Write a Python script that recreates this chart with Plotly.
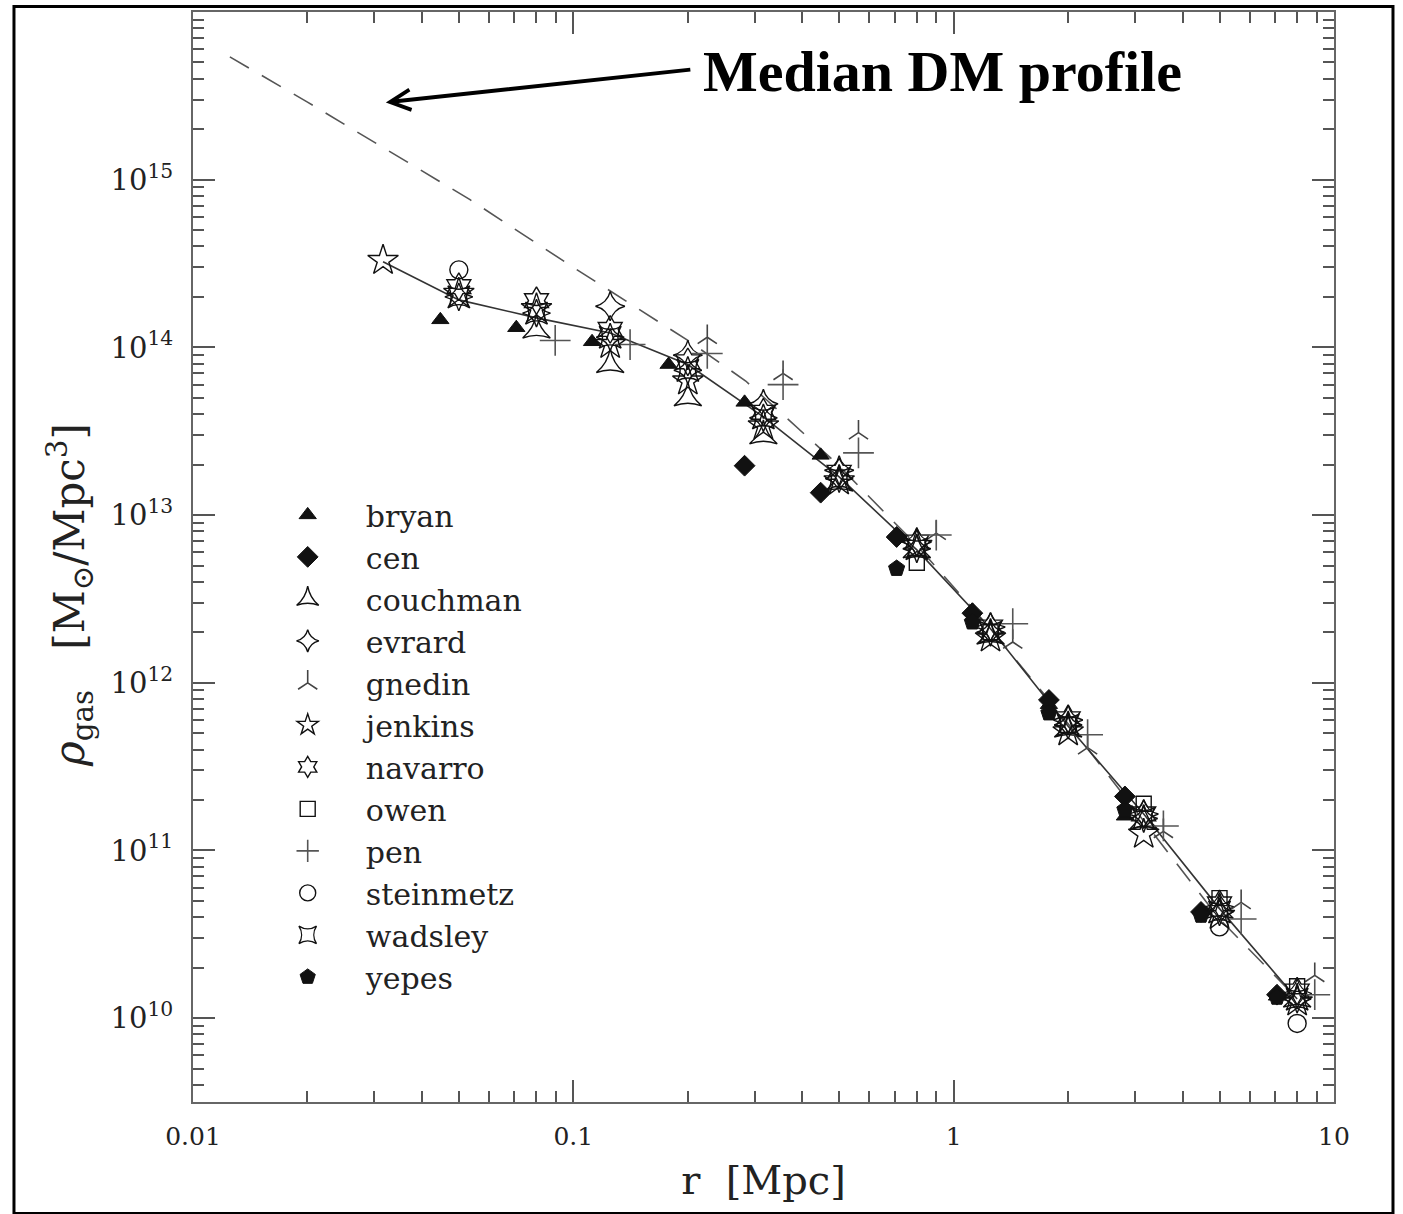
import numpy as np
import plotly.graph_objects as go

# ---------------- data ----------------
bryan_r = [0.0447, 0.0708, 0.112, 0.178, 0.282, 0.447, 0.708, 1.12, 1.78, 2.82, 4.47, 7.08]
bryan_rho = [1.46e14, 1.31e14, 1.08e14, 7.9e13, 4.7e13, 2.27e13, 7.6e12, 2.7e12, 7.4e11, 1.6e11, 4.4e10, 1.35e10]

cen_r = [0.282, 0.447, 0.708, 1.12, 1.78, 2.82, 4.47, 7.08]
cen_rho = [1.97e13, 1.36e13, 7.4e12, 2.6e12, 7.9e11, 2.1e11, 4.3e10, 1.38e10]

couchman_r = [0.08, 0.125, 0.2, 0.316, 0.5, 0.8, 1.25, 2.0, 3.16, 5.0, 8.0]
couchman_rho = [1.27e14, 7.9e13, 5.0e13, 2.97e13, 1.55e13, 6.2e12, 1.9e12, 5.3e11, 1.5e11, 4.4e10, 1.3e10]

evrard_r = [0.125, 0.2, 0.316, 0.5, 0.8, 1.25, 2.0, 3.16, 5.0, 8.0]
evrard_rho = [1.76e14, 9.0e13, 4.6e13, 1.85e13, 6.9e12, 2.15e12, 6.0e11, 1.65e11, 4.6e10, 1.4e10]

gnedin_r = [0.225, 0.356, 0.562, 0.9, 1.43, 2.25, 3.56, 5.7, 8.9]
gnedin_rho = [1.15e14, 7.0e13, 3.1e13, 7.8e12, 1.75e12, 4.1e11, 1.3e11, 4.9e10, 1.8e10]

jenkins_r = [0.0316, 0.05, 0.08, 0.125, 0.2, 0.316, 0.5, 0.8, 1.25, 2.0, 3.16, 5.0, 8.0]
jenkins_rho = [3.3e14, 2.1e14, 1.7e14, 1.04e14, 6.3e13, 3.4e13, 1.6e13, 6.6e12, 1.85e12, 5.1e11, 1.25e11, 4.1e10, 1.25e10]

navarro_r = [0.05, 0.08, 0.125, 0.2, 0.316, 0.5, 0.8, 1.25, 2.0, 3.16, 5.0, 8.0]
navarro_rho = [2.3e14, 1.9e14, 1.28e14, 8.2e13, 4.1e13, 1.8e13, 6.9e12, 2.15e12, 6.1e11, 1.65e11, 4.8e10, 1.45e10]

owen_r = [0.8, 1.25, 2.0, 3.16, 5.0, 8.0]
owen_rho = [5.2e12, 2.0e12, 5.6e11, 1.9e11, 5.2e10, 1.55e10]

pen_r = [0.0896, 0.141, 0.225, 0.356, 0.562, 0.9, 1.43, 2.25, 3.56, 5.7, 8.9]
pen_rho = [1.1e14, 1.04e14, 9.2e13, 6.0e13, 2.35e13, 7.6e12, 2.25e12, 4.9e11, 1.4e11, 3.9e10, 1.38e10]

steinmetz_r = [0.05, 5.0, 8.0]
steinmetz_rho = [2.9e14, 3.5e10, 9.3e9]

wadsley_r = [0.05, 0.08, 0.125, 0.2, 0.316, 0.5, 0.8, 1.25, 2.0, 3.16, 5.0, 8.0]
wadsley_rho = [2.0e14, 1.6e14, 1.15e14, 7.3e13, 3.8e13, 1.65e13, 6.3e12, 2.0e12, 5.6e11, 1.55e11, 4.3e10, 1.3e10]

yepes_r = [0.708, 1.12, 1.78, 2.82, 4.47, 7.08]
yepes_rho = [4.8e12, 2.3e12, 6.6e11, 1.75e11, 4.1e10, 1.33e10]

median_r = [0.0316, 0.05, 0.08, 0.125, 0.2, 0.316, 0.5, 0.8, 1.25, 2.0, 3.16, 5.0, 8.0]
median_rho = [3.24e14, 1.92e14, 1.5e14, 1.22e14, 7.9e13, 3.85e13, 1.69e13, 6.2e12, 2.1e12, 5.5e11, 1.65e11, 4.5e10, 1.3e10]

dm_r = [0.0125, 0.02, 0.0535, 0.1, 0.2, 0.284, 0.485, 0.8, 1.25, 2.0, 3.16, 5.0, 7.9]
dm_rho = [5.4e15, 2.9e15, 7.6e14, 3.0e14, 1.1e14, 6.3e13, 2.1e13, 6.6e12, 2.1e12, 5.7e11, 1.5e11, 3.9e10, 1.35e10]

x_tickvals = [0.01, 0.1, 1, 10]
x_ticktext = ["0.01", "0.1", "1", "10"]
y_exponents = [10, 11, 12, 13, 14, 15]

# ---------------- figure ----------------
SERIF = "DejaVu Serif"
INK = "#111111"
GREY = "#555555"
PAD = "\u00a0" * 4
NB = "\u00a0"

fig = go.Figure()

fig.add_trace(go.Scatter(x=dm_r, y=dm_rho, mode="lines", showlegend=False,
                         line=dict(color="#555555", width=1.6, dash="22px,15px"),
                         hoverinfo="skip"))
fig.add_trace(go.Scatter(x=median_r, y=median_rho, mode="lines", showlegend=False,
                         line=dict(color="#333333", width=1.6), hoverinfo="skip"))

series = [
    ("bryan", bryan_r, bryan_rho, "triangle-up", 15, INK, 1),
    ("cen", cen_r, cen_rho, "diamond", 16, INK, 1),
    ("couchman", couchman_r, couchman_rho, "star-triangle-up-open", 20, INK, 1.4),
    ("evrard", evrard_r, evrard_rho, "star-diamond-open", 21, INK, 1.4),
    ("gnedin", gnedin_r, gnedin_rho, "y-up", 16, "#444444", 1.6),
    ("jenkins", jenkins_r, jenkins_rho, "star-open", 23, INK, 1.4),
    ("navarro", navarro_r, navarro_rho, "hexagram-open", 21, INK, 1.4),
    ("owen", owen_r, owen_rho, "square-open", 15, INK, 1.4),
    ("pen", pen_r, pen_rho, "cross-thin", 22, "#555555", 1.6),
    ("steinmetz", steinmetz_r, steinmetz_rho, "circle-open", 18, INK, 1.4),
    ("wadsley", wadsley_r, wadsley_rho, "star-square-open", 20, INK, 1.4),
    ("yepes", yepes_r, yepes_rho, "pentagon", 17, INK, 1),
]

for name, xs, ys, sym, size, col, lw in series:
    fig.add_trace(go.Scatter(
        x=xs, y=ys, mode="markers", name=PAD + name, legendgroup=name,
        marker=dict(symbol=sym, size=size, color=col,
                    line=dict(color=col, width=lw)),
    ))
    if name == "wadsley":
        fig.add_trace(go.Scatter(
            x=xs, y=ys, mode="markers", showlegend=False, legendgroup=name,
            marker=dict(symbol="star-diamond-open", size=size, color=col,
                        line=dict(color=col, width=lw)),
        ))

def minor_vals(lo, hi):
    return [k * 10.0 ** e for e in range(lo, hi) for k in range(2, 10)]

axis_common = dict(
    type="log", showgrid=False, zeroline=False,
    showline=True, linecolor="#666666", linewidth=2, mirror="allticks",
    ticks="inside", ticklen=22, tickwidth=1.5, tickcolor=GREY,
)

fig.update_xaxes(
    **axis_common, range=[-2, 1],
    tickmode="array", tickvals=x_tickvals, ticktext=x_ticktext,
    tickfont=dict(family=SERIF, size=25, color="#222222"),
    ticklabelstandoff=11,
    minor=dict(ticks="inside", ticklen=11, tickwidth=1.5, tickcolor=GREY,
               tickvals=minor_vals(-2, 1)),
    title=dict(text="r  [Mpc]", font=dict(family=SERIF, size=40, color="#222222"),
               standoff=16),
)
fig.update_yaxes(
    **axis_common, range=[9.5, 16],
    tickmode="array", tickvals=[10.0 ** e for e in y_exponents],
    ticktext=["10<sup>%d</sup>" % e for e in y_exponents],
    tickfont=dict(family=SERIF, size=29, color="#222222"),
    ticklabelstandoff=12,
    minor=dict(ticks="inside", ticklen=11, tickwidth=1.5, tickcolor=GREY,
               tickvals=minor_vals(9, 16)),
)

fig.update_layout(
    width=1403, height=1214,
    margin=dict(l=193, r=69, t=12, b=112, autoexpand=False),
    paper_bgcolor="white", plot_bgcolor="white",
    legend=dict(x=0.083, y=0.5625, xanchor="left", yanchor="top",
                bgcolor="rgba(0,0,0,0)", borderwidth=0, tracegroupgap=0,
                font=dict(family=SERIF, size=30, color="#222222"),
                itemsizing="trace"),
    annotations=[
        dict(xref="paper", yref="paper", x=-0.108, y=0.465, textangle=-90,
             xanchor="center", yanchor="middle", showarrow=False,
             text="<i>ρ</i><sub>gas</sub>" + NB * 3 + "[M<sub>⊙</sub>/Mpc<sup>3</sup>]",
             font=dict(family=SERIF, size=42, color="#222222")),
        dict(xref="paper", yref="paper", x=0.169, y=0.917, text="",
             showarrow=True, ax=306, ay=-33, arrowhead=5, arrowsize=1,
             arrowwidth=4, arrowcolor="black"),
        dict(xref="paper", yref="paper", x=0.445, y=0.9453, xanchor="left",
             yanchor="middle", showarrow=False,
             text="<b>Median DM profile</b>",
             font=dict(family="Liberation Serif", size=58, color="black")),
    ],
    shapes=[
        dict(type="rect", xref="paper", yref="paper",
             x0=-0.1569, x1=1.0517, y0=-0.1022, y1=1.005,
             line=dict(color="black", width=3)),
    ],
)

fig.write_html("out.html")
